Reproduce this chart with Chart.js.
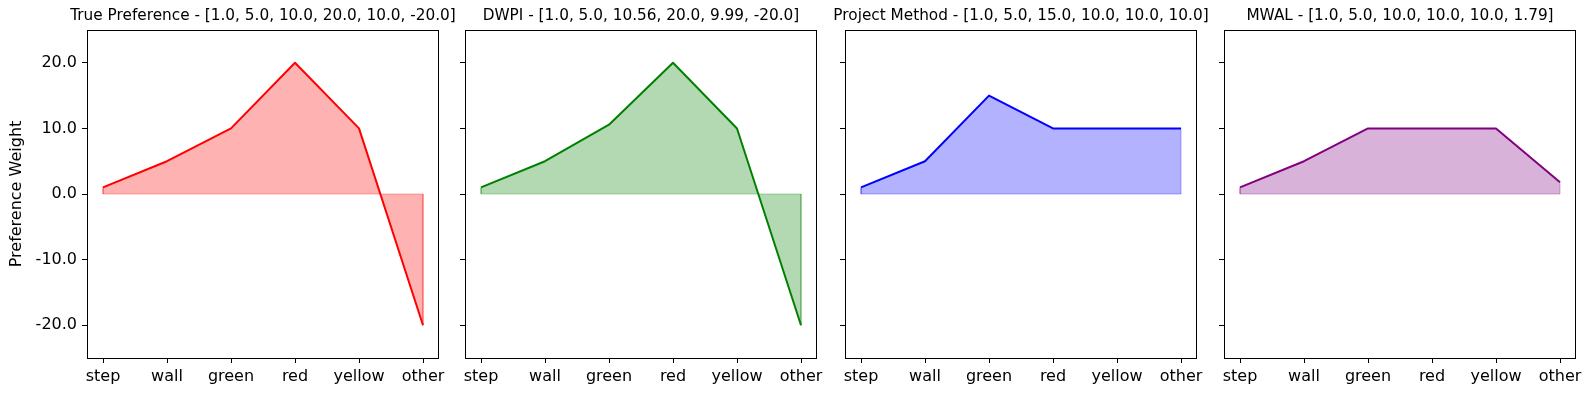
<!DOCTYPE html>
<html lang="en">
<head>
    <meta charset="UTF-8">
    <title>Preference Weights</title>
    <script src="https://cdn.jsdelivr.net/npm/chart.js"></script>
    <style>
        body { margin: 0; background: #fff; width: 1592px; height: 396px; overflow: hidden; position: relative; }
        .panel { position: absolute; top: 0; height: 396px; }
    </style>
</head>
<body>
    <div class="panel" id="p0"><canvas id="c0"></canvas></div>
    <div class="panel" id="p1"><canvas id="c1"></canvas></div>
    <div class="panel" id="p2"><canvas id="c2"></canvas></div>
    <div class="panel" id="p3"><canvas id="c3"></canvas></div>

    <script>
    // chart data
    const categories = ['step', 'wall', 'green', 'red', 'yellow', 'other'];
    const trueWeights = [1.0, 5.0, 10.0, 20.0, 10.0, -20.0];
    const dwpiWeights = [1.0, 5.0, 10.56, 20.0, 9.99, -20.0];
    const projectWeights = [1.0, 5.0, 15.0, 10.0, 10.0, 10.0];
    const mwalWeights = [1.0, 5.0, 10.0, 10.0, 10.0, 1.79];
    const yTicks = [-20, -10, 0, 10, 20];
    const titles = [
        'True Preference - [1.0, 5.0, 10.0, 20.0, 10.0, -20.0]',
        'DWPI - [1.0, 5.0, 10.56, 20.0, 9.99, -20.0]',
        'Project Method - [1.0, 5.0, 15.0, 10.0, 10.0, 10.0]',
        'MWAL - [1.0, 5.0, 10.0, 10.0, 10.0, 1.79]'
    ];

    const panels = [
        { values: trueWeights, rgb: '255, 0, 0', line: 'red' },
        { values: dwpiWeights, rgb: '0, 128, 0', line: 'green' },
        { values: projectWeights, rgb: '0, 0, 255', line: 'blue' },
        { values: mwalWeights, rgb: '128, 0, 128', line: 'purple' }
    ];

    // where each axes box starts, and the room left of it
    const axLefts = [87, 465, 845, 1224];
    const axWidth = 352;
    const rightPad = 30;
    const topPad = 30;

    const font = 'DejaVu Sans';

    // full axes frame (all four spines) + title centred over the axes
    const framePlugin = {
        id: 'frame',
        afterDraw(chart, args, opts) {
            const a = chart.chartArea;
            const ctx = chart.ctx;
            ctx.save();
            ctx.strokeStyle = '#000';
            ctx.lineWidth = 1;
            ctx.strokeRect(Math.round(a.left) + 0.5, Math.round(a.top) + 0.5,
                Math.round(a.right - a.left) - 1, Math.round(a.bottom - a.top));
            ctx.fillStyle = '#000';
            ctx.font = '15.3px "' + font + '"';
            ctx.textAlign = 'center';
            ctx.textBaseline = 'middle';
            ctx.fillText(opts.text, (a.left + a.right) / 2, 16);
            ctx.restore();
        }
    };

    panels.forEach((p, i) => {
        const ySpace = i === 0 ? 87 : 30;
        const box = document.getElementById('p' + i);
        box.style.left = (axLefts[i] - ySpace) + 'px';
        box.style.width = (ySpace + axWidth + rightPad) + 'px';

        const n = p.values.length;
        const pts = p.values.map((v, k) => ({ x: k, y: v }));
        // outline of the filled polygon (baseline + end edges)
        const edge = [
            { x: 0, y: p.values[0] }, { x: 0, y: 0 },
            { x: n - 1, y: 0 }, { x: n - 1, y: p.values[n - 1] }
        ];

        new Chart(document.getElementById('c' + i), {
            type: 'line',
            data: {
                datasets: [
                    {
                        data: pts,
                        borderColor: p.line,
                        borderWidth: 2,
                        borderJoinStyle: 'round',
                        backgroundColor: 'rgba(' + p.rgb + ', 0.3)',
                        fill: 'origin',
                        pointRadius: 0,
                        tension: 0
                    },
                    {
                        data: edge,
                        borderColor: 'rgba(' + p.rgb + ', 0.3)',
                        borderWidth: 1,
                        fill: false,
                        pointRadius: 0,
                        tension: 0
                    }
                ]
            },
            options: {
                responsive: true,
                maintainAspectRatio: false,
                animation: false,
                events: [],
                layout: { padding: { left: 0, right: rightPad, top: topPad, bottom: 0 } },
                plugins: {
                    legend: { display: false },
                    tooltip: { enabled: false },
                    title: { display: false },
                    frame: { text: titles[i] }
                },
                scales: {
                    x: {
                        type: 'linear',
                        min: -0.25,
                        max: n - 0.75,
                        afterBuildTicks: s => { s.ticks = categories.map((c, k) => ({ value: k })); },
                        afterFit: s => { s.height = 38; },
                        ticks: {
                            callback: v => categories[v],
                            color: '#000',
                            font: { family: font, size: 16 },
                            padding: 4,
                            maxRotation: 0
                        },
                        grid: { display: true, drawOnChartArea: false, drawTicks: true, tickLength: 5, color: '#000' },
                        border: { display: false }
                    },
                    y: {
                        min: -25,
                        max: 25,
                        afterBuildTicks: s => { s.ticks = yTicks.map(v => ({ value: v })); },
                        afterFit: s => { s.width = ySpace; },
                        ticks: {
                            display: i === 0,
                            callback: v => v.toFixed(1),
                            color: '#000',
                            font: { family: font, size: 16 },
                            padding: 5
                        },
                        grid: { display: true, drawOnChartArea: false, drawTicks: true, tickLength: 5, color: '#000' },
                        border: { display: false },
                        title: {
                            display: i === 0,
                            text: 'Preference Weight',
                            color: '#000',
                            font: { family: font, size: 16 },
                            padding: { top: 7, bottom: 0 }
                        }
                    }
                }
            },
            plugins: [framePlugin]
        });
    });
    </script>
</body>
</html>
